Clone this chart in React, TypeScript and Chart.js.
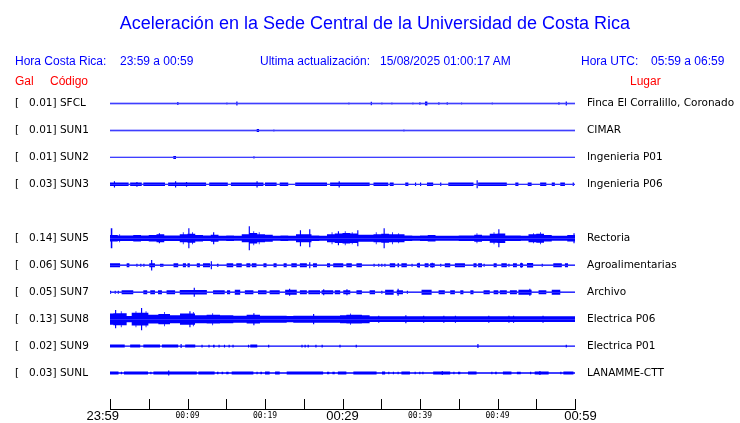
import React, { useEffect, useRef } from "react";
import { Chart, registerables } from "chart.js";

Chart.register(...registerables);

// ---------- data ----------
const TITLE = "Aceleración en la Sede Central de la Universidad de Costa Rica";
const TIME_LABELS = ["23:59", "00:09", "00:19", "00:29", "00:39", "00:49", "00:59"]; // every 10 min
const BIG_TIME_LABELS = ["23:59", "00:29", "00:59"];

const CODES = ["SFCL", "SUN1", "SUN2", "SUN3", "SUN4", "SUN5", "SUN6", "SUN7", "SUN8", "SUN9", "SUNL"];
const PEAK_GAL: (number | null)[] = [0.01, 0.01, 0.01, 0.03, null, 0.14, 0.06, 0.05, 0.13, 0.02, 0.03];
const PLACES = [
  "Finca El Corralillo, Coronado", "CIMAR", "Ingenieria P01", "Ingenieria P06", "",
  "Rectoria", "Agroalimentarias", "Archivo", "Electrica P06", "Electrica P01", "LANAMME-CTT",
];

// noise floor half-amplitude (Gal)
const FLOOR = 0.009;

// bursts: [start minute, end minute, half-amplitude in Gal]
const SFCL_BURSTS = [
  [8.68, 8.83, 0.019], [15.01, 15.16, 0.013], [16.3, 16.45, 0.025], [30.75, 30.9, 0.013],
  [33.64, 33.79, 0.022], [35.01, 35.16, 0.013], [36.3, 36.45, 0.013], [39.01, 39.16, 0.013],
  [39.91, 40.06, 0.016], [40.65, 40.95, 0.025], [42.36, 42.51, 0.016], [43.44, 43.59, 0.016],
  [45.29, 45.44, 0.013], [49.25, 49.4, 0.013], [57.85, 58.0, 0.016], [58.8, 58.95, 0.025],
];
const SUN1_BURSTS = [[18.93, 19.23, 0.019], [21.07, 21.22, 0.013], [37.85, 38.0, 0.013]];
const SUN2_BURSTS = [[8.17, 8.52, 0.019], [18.5, 18.65, 0.013]];
const SUN3_BURSTS = [
  [0, 2.4, 0.022], [2.6, 4.1, 0.022], [4.3, 7.1, 0.022], [7.5, 12.4, 0.022], [12.8, 15.2, 0.022],
  [15.6, 19.8, 0.022], [20.0, 21.5, 0.022], [21.9, 23.0, 0.022], [23.9, 28.0, 0.022], [28.4, 33.5, 0.022],
  [34.0, 35.9, 0.022], [36.1, 36.6, 0.022], [38.1, 38.5, 0.022], [40.9, 41.7, 0.022], [43.65, 46.9, 0.022],
  [47.5, 51.2, 0.022], [52.3, 52.7, 0.022], [53.9, 54.4, 0.022], [55.5, 56.3, 0.022], [57.0, 57.4, 0.022],
  [58.1, 58.7, 0.022],
  [0.5, 0.65, 0.038], [3.4, 3.55, 0.03], [8.39, 8.54, 0.038], [9.8, 9.95, 0.031], [18.9, 19.05, 0.038],
  [29.5, 29.65, 0.038], [39.35, 39.5, 0.022], [40.0, 40.15, 0.022], [42.6, 42.75, 0.022],
  [47.3, 47.45, 0.05], [59.7, 59.85, 0.022],
];
// SUN5: one envelope value per minute, plus spikes
const SUN5_PER_MINUTE = [
  0.04, 0.035, 0.035, 0.04, 0.035, 0.04, 0.05, 0.035, 0.035, 0.05,
  0.055, 0.04, 0.035, 0.045, 0.031, 0.035, 0.031, 0.05, 0.065, 0.05,
  0.045, 0.031, 0.035, 0.031, 0.05, 0.05, 0.035, 0.031, 0.05, 0.06,
  0.065, 0.06, 0.045, 0.045, 0.05, 0.055, 0.05, 0.05, 0.035, 0.031,
  0.035, 0.04, 0.031, 0.031, 0.031, 0.035, 0.035, 0.045, 0.035, 0.055,
  0.06, 0.035, 0.035, 0.031, 0.05, 0.055, 0.04, 0.031, 0.031, 0.04,
];
const SUN5_BURSTS = [
  [0.1, 0.3, 0.125], [1.2, 1.3, 0.05], [6.3, 6.45, 0.063], [9.4, 9.5, 0.075], [10.1, 10.25, 0.125],
  [10.6, 10.7, 0.075], [13.3, 13.45, 0.075], [17.9, 18.05, 0.15], [18.5, 18.6, 0.088], [19.2, 19.3, 0.075],
  [24.5, 24.65, 0.1], [25.7, 25.85, 0.113], [28.6, 28.7, 0.075], [29.4, 29.55, 0.088], [30.3, 30.4, 0.088],
  [31.2, 31.3, 0.075], [31.9, 32.05, 0.1], [34.3, 34.4, 0.075], [35.3, 35.45, 0.125], [36.4, 36.5, 0.075],
  [37.2, 37.3, 0.063], [47.3, 47.4, 0.063], [49.5, 49.6, 0.075], [50.1, 50.25, 0.113], [54.6, 54.7, 0.063],
  [55.5, 55.6, 0.075], [59.8, 59.95, 0.063],
];
const SUN6_BURSTS = [
  [0, 1.3, 0.025], [2.15, 2.5, 0.025], [3.4, 3.55, 0.019], [3.9, 4.05, 0.019], [4.3, 4.45, 0.019],
  [5.07, 5.8, 0.025], [5.3, 5.45, 0.066], [6.45, 6.9, 0.019], [8.2, 8.8, 0.025], [9.4, 9.8, 0.025],
  [10.0, 10.3, 0.025], [11.2, 11.6, 0.025], [12.0, 12.9, 0.025], [13.0, 13.15, 0.05], [13.8, 14.0, 0.019],
  [15.05, 15.9, 0.025], [16.3, 17.0, 0.025], [17.6, 18.1, 0.025], [18.3, 18.9, 0.025], [19.8, 20.2, 0.025],
  [21.1, 21.5, 0.025], [22.4, 22.8, 0.025], [23.4, 24.1, 0.025], [24.5, 25.4, 0.025], [25.7, 25.85, 0.038],
  [26.2, 26.7, 0.025], [28.0, 28.4, 0.025], [28.8, 30.1, 0.025], [30.5, 31.2, 0.025], [31.8, 32.5, 0.025],
  [34.0, 34.15, 0.019], [34.6, 34.75, 0.019], [35.0, 35.15, 0.019], [35.4, 35.55, 0.019], [36.1, 36.8, 0.025],
  [37.1, 37.3, 0.025], [37.6, 38.3, 0.025], [38.9, 39.05, 0.019], [39.6, 40.0, 0.025], [39.8, 39.95, 0.031],
  [40.6, 41.1, 0.025], [41.3, 41.9, 0.025], [41.5, 41.65, 0.031], [42.6, 42.75, 0.019], [43.2, 43.9, 0.025],
  [44.5, 45.8, 0.025], [46.9, 47.3, 0.025], [47.5, 48.0, 0.025], [48.2, 48.35, 0.019], [49.5, 49.9, 0.025],
  [50.5, 51.2, 0.025], [51.4, 51.55, 0.019], [52.0, 52.5, 0.025], [52.9, 53.3, 0.025], [53.0, 53.15, 0.031],
  [53.8, 54.6, 0.028], [55.7, 55.85, 0.019], [57.2, 58.3, 0.025], [58.7, 59.1, 0.025],
];
const SUN7_BURSTS = [
  [0, 0.15, 0.019], [0.6, 0.75, 0.019], [1.0, 1.15, 0.019], [1.5, 3.0, 0.025], [4.3, 4.8, 0.025],
  [5.2, 5.8, 0.025], [6.2, 6.7, 0.025], [7.3, 8.4, 0.025], [9.0, 12.5, 0.028], [10.8, 10.95, 0.056],
  [13.3, 14.8, 0.025], [15.1, 15.5, 0.025], [16.1, 16.8, 0.031], [17.4, 18.5, 0.025], [19.1, 20.2, 0.025],
  [20.6, 21.9, 0.025], [22.6, 24.1, 0.031], [23.1, 23.25, 0.044], [24.5, 25.4, 0.025], [25.6, 27.1, 0.025],
  [27.3, 28.8, 0.025], [27.5, 27.65, 0.038], [29.0, 29.7, 0.025], [30.1, 31.0, 0.025], [30.5, 30.65, 0.038],
  [31.8, 32.5, 0.025], [33.5, 34.2, 0.025], [35.0, 35.15, 0.019], [35.5, 36.6, 0.031], [37.0, 37.8, 0.025],
  [37.1, 37.25, 0.044], [38.3, 38.45, 0.019], [40.2, 41.5, 0.031], [42.4, 43.2, 0.025], [43.9, 44.5, 0.025],
  [45.2, 45.6, 0.025], [46.5, 46.9, 0.025], [48.2, 49.0, 0.025], [49.5, 50.1, 0.025], [50.3, 51.2, 0.025],
  [51.6, 52.5, 0.025], [52.7, 54.4, 0.031], [54.1, 54.25, 0.044], [55.3, 56.3, 0.025], [57.0, 58.1, 0.031],
];
const SUN8_BURSTS = [
  [0, 0.43, 0.07], [0.43, 2.15, 0.075], [2.15, 2.8, 0.038], [2.8, 4.95, 0.08], [4.95, 6.24, 0.055],
  [6.24, 7.74, 0.065], [7.74, 9.03, 0.05], [9.03, 10.97, 0.07], [10.97, 12.47, 0.05], [12.47, 14.19, 0.055],
  [14.19, 15.91, 0.05], [15.91, 17.63, 0.044], [17.63, 19.35, 0.055], [19.35, 22.8, 0.044], [22.8, 23.65, 0.038],
  [23.65, 29.68, 0.044], [29.68, 30.5, 0.05], [30.5, 32.5, 0.055], [32.5, 33.5, 0.05], [33.5, 60, 0.036],
  [0.65, 0.8, 0.113], [1.4, 1.5, 0.1], [3.3, 3.4, 0.1], [4.0, 4.15, 0.138], [4.6, 4.7, 0.1],
  [7.0, 7.1, 0.088], [10.24, 10.39, 0.1], [10.7, 10.8, 0.088], [13.2, 13.3, 0.075], [18.49, 18.64, 0.075],
  [26.2, 26.35, 0.063], [31.0, 31.1, 0.07], [34.6, 34.75, 0.044], [38.1, 38.25, 0.05], [40.4, 40.55, 0.044],
  [43.0, 43.15, 0.044], [44.5, 44.65, 0.044], [48.8, 48.95, 0.044], [51.4, 51.55, 0.044], [52.0, 52.15, 0.044],
  [55.8, 55.95, 0.044],
];
const SUN9_BURSTS = [
  [0, 1.9, 0.019], [2.6, 3.9, 0.019], [4.3, 6.45, 0.019], [6.7, 8.8, 0.019], [9.1, 9.25, 0.025],
  [9.7, 11.0, 0.019], [11.8, 11.95, 0.016], [12.7, 12.85, 0.016], [13.3, 13.5, 0.016], [14.0, 14.15, 0.016],
  [14.7, 14.85, 0.016], [15.3, 15.45, 0.016], [15.8, 15.95, 0.016], [17.8, 17.95, 0.016], [18.1, 19.0, 0.019],
  [20.4, 20.55, 0.016], [24.7, 24.85, 0.016], [25.1, 25.25, 0.016], [25.5, 25.65, 0.016], [26.5, 26.65, 0.016],
  [27.3, 27.45, 0.016], [29.6, 29.75, 0.016], [31.7, 31.85, 0.016], [47.4, 47.55, 0.025], [58.8, 58.95, 0.016],
];
const SUNL_BURSTS = [
  [0, 1.1, 0.019], [1.4, 1.55, 0.016], [1.8, 4.9, 0.019], [5.2, 5.35, 0.016], [5.6, 11.2, 0.019],
  [7.5, 7.65, 0.031], [11.4, 13.5, 0.019], [13.8, 14.0, 0.016], [14.4, 14.6, 0.016], [15.0, 15.3, 0.016],
  [15.7, 18.5, 0.019], [18.9, 19.05, 0.016], [19.4, 19.6, 0.016], [20.0, 20.6, 0.019], [21.3, 21.9, 0.019],
  [22.8, 27.5, 0.019], [28.0, 28.3, 0.016], [28.7, 29.0, 0.016], [29.4, 30.5, 0.019], [31.4, 34.4, 0.019],
  [35.1, 35.5, 0.019], [35.9, 36.05, 0.016], [36.5, 36.65, 0.016], [37.1, 37.25, 0.016], [37.6, 38.7, 0.019],
  [39.3, 39.45, 0.016], [39.9, 40.05, 0.016], [40.3, 40.45, 0.016], [41.7, 43.9, 0.019], [42.8, 42.95, 0.025],
  [44.3, 44.45, 0.016], [44.9, 45.2, 0.016], [46.2, 47.3, 0.019], [49.2, 49.35, 0.016], [49.7, 49.9, 0.016],
  [50.7, 51.8, 0.019], [52.5, 53.0, 0.016], [54.2, 54.35, 0.016], [54.8, 56.6, 0.019], [55.4, 55.55, 0.025],
  [58.1, 58.25, 0.016], [58.5, 59.8, 0.019],
];

// ---------- layout constants ----------
const W = 740;
const H = 423;
const ROW_GAL = 0.3375; // vertical spacing between traces, in Gal
const BLUE = "#0000ff";
const RED = "#ff0000";
const SANS = "'Liberation Sans', Arial, Helvetica, sans-serif";
const DJ = "'DejaVu Sans', sans-serif";

function perMinuteToBursts(vals: number[]) {
  return vals.map((v, m) => [m, m + 1, v]);
}

const BURSTS: (number[][] | null)[] = [
  SFCL_BURSTS, SUN1_BURSTS, SUN2_BURSTS, SUN3_BURSTS, null,
  [...perMinuteToBursts(SUN5_PER_MINUTE), ...SUN5_BURSTS],
  SUN6_BURSTS, SUN7_BURSTS, SUN8_BURSTS, SUN9_BURSTS, SUNL_BURSTS,
];

function stepPoints(bursts: number[][]) {
  const set = new Set<number>([0, 60]);
  bursts.forEach(([a, b]) => { set.add(a); set.add(b); });
  const ts = Array.from(set).filter((t) => t >= 0 && t <= 60).sort((a, b) => a - b);
  return ts.map((t) => {
    let amp = FLOOR;
    for (const [a, b, v] of bursts) if (t >= a && t < b && v > amp) amp = v;
    return { t, amp };
  });
}

const tickMarks = {
  id: "tickMarks",
  afterDraw(chart: any) {
    const xs = chart.scales.x;
    const ctx = chart.ctx;
    const bottom = chart.chartArea.bottom;
    ctx.save();
    ctx.strokeStyle = "#000";
    ctx.lineWidth = 1;
    xs.ticks.forEach((t: any) => {
      const x = Math.round(xs.getPixelForValue(t.value)) + 0.5;
      ctx.beginPath();
      ctx.moveTo(x, bottom - 10);
      ctx.lineTo(x, bottom);
      ctx.stroke();
    });
    ctx.restore();
  },
};

function timeLabel(v: number) {
  return v % 10 === 0 ? TIME_LABELS[v / 10] : "";
}

const noPad = (s: any) => {
  s.paddingTop = 0;
  s.paddingBottom = 0;
};

export default function App() {
  const ref = useRef<HTMLCanvasElement>(null);

  useEffect(() => {
    if (!ref.current) return;
    const datasets: any[] = [];
    BURSTS.forEach((b, i) => {
      if (!b) return;
      const pts = stepPoints(b);
      const c = i * ROW_GAL;
      const common = {
        type: "line",
        stepped: true,
        pointRadius: 0,
        borderWidth: 0,
        borderColor: BLUE,
        backgroundColor: BLUE,
        fill: { value: c },
        yAxisID: "y",
      };
      datasets.push({ ...common, label: CODES[i] + "+", data: pts.map((p) => ({ x: p.t, y: c - p.amp })) });
      datasets.push({ ...common, label: CODES[i] + "-", data: pts.map((p) => ({ x: p.t, y: c + p.amp })) });
    });

    const yMin = -0.5 * ROW_GAL;
    const yMax = ROW_GAL * (CODES.length + 1 / 3);
    const rowTicks = (scale: any) => {
      scale.ticks = CODES.map((_, i) => ({ value: i * ROW_GAL }));
    };
    const leftLabel = (_v: any, i: number) =>
      PEAK_GAL[i] == null ? "" : `[   ${(PEAK_GAL[i] as number).toFixed(2)}] ${CODES[i]}`;

    const chart = new Chart(ref.current, {
      type: "line",
      data: { datasets },
      options: {
        animation: false,
        responsive: false,
        events: [],
        layout: { padding: { top: 90, left: 15, right: 0, bottom: 0 } },
        plugins: { legend: { display: false }, tooltip: { enabled: false }, title: { display: false } },
        scales: {
          x: {
            type: "linear",
            min: 0,
            max: 60,
            grid: { display: false, drawTicks: false },
            border: { display: true, color: "#000", width: 1 },
            afterFit: (s: any) => { s.height = 14; },
            ticks: {
              stepSize: 5,
              autoSkip: false,
              maxRotation: 0,
              padding: 1,
              color: "#000",
              callback: (v: any) => {
                const lab = timeLabel(Number(v));
                if (lab === TIME_LABELS[0]) return lab + "    ";
                if (lab === TIME_LABELS[TIME_LABELS.length - 1]) return "   " + lab;
                return lab;
              },
              font: (ctx: any) => {
                const v = ctx.tick ? ctx.tick.value : 0;
                return BIG_TIME_LABELS.includes(timeLabel(v))
                  ? { family: SANS, size: 13, lineHeight: 1 }
                  : { family: "'DejaVu Sans Mono', monospace", size: 8, lineHeight: 1.5 };
              },
            },
          },
          y: {
            type: "linear",
            position: "left",
            reverse: true,
            min: yMin,
            max: yMax,
            grid: { display: false, drawTicks: false },
            border: { display: false },
            afterBuildTicks: rowTicks,
            afterFit: (s: any) => { s.width = 95; noPad(s); },
            ticks: {
              autoSkip: false,
              crossAlign: "far",
              padding: 0,
              color: "#000",
              font: { family: DJ, size: 10.5 },
              callback: leftLabel,
            },
          },
          y2: {
            type: "linear",
            position: "right",
            reverse: true,
            min: yMin,
            max: yMax,
            grid: { display: false, drawTicks: false },
            border: { display: false },
            afterBuildTicks: rowTicks,
            afterFit: (s: any) => { s.width = 165; noPad(s); },
            ticks: {
              autoSkip: false,
              padding: 12,
              color: "#000",
              font: { family: DJ, size: 10.5 },
              callback: (_v: any, i: number) => PLACES[i],
            },
          },
        },
      } as any,
      plugins: [tickMarks],
    });
    return () => chart.destroy();
  }, []);

  const txt = (left: number, top: number, s: string, color: string, size = 12) => (
    <div
      style={{
        position: "absolute", left, top, color, fontFamily: SANS, fontSize: size,
        lineHeight: `${size}px`, whiteSpace: "pre",
      }}
    >
      {s}
    </div>
  );

  return (
    <div style={{ position: "absolute", left: 0, top: 0, width: W, height: H, background: "#fff", overflow: "hidden" }}>
      <canvas ref={ref} width={W} height={H} style={{ position: "absolute", left: 0, top: 0, display: "block" }} />
      <div
        style={{
          position: "absolute", left: 0, top: 14, width: 750, textAlign: "center", color: BLUE,
          fontFamily: SANS, fontSize: 18, lineHeight: "18px", whiteSpace: "pre",
        }}
      >
        {TITLE}
      </div>
      {txt(15, 55, "Hora Costa Rica:", BLUE)}
      {txt(120, 55, "23:59 a 00:59", BLUE)}
      {txt(260, 55, "Ultima actualización:", BLUE)}
      {txt(380, 55, "15/08/2025 01:00:17 AM", BLUE)}
      {txt(581, 55, "Hora UTC:", BLUE)}
      {txt(651, 55, "05:59 a 06:59", BLUE)}
      {txt(15, 75, "Gal", RED)}
      {txt(50, 75, "Código", RED)}
      {txt(630, 75, "Lugar", RED)}
    </div>
  );
}
